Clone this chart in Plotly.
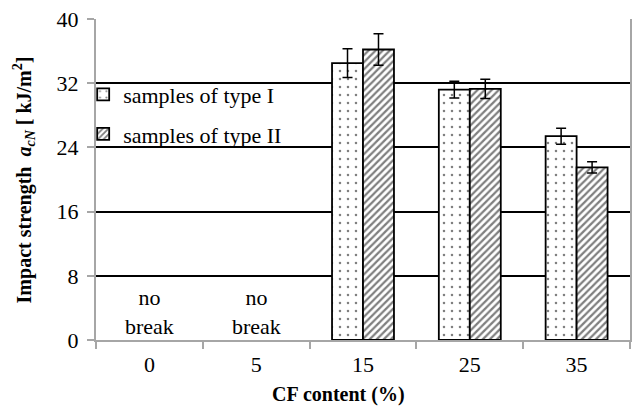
import plotly.graph_objects as go

categories = ["0", "5", "15", "25", "35"]
type1 = [None, None, 34.5, 31.2, 25.4]
type1_err = [None, None, 1.8, 1.05, 1.0]
type2 = [None, None, 36.2, 31.3, 21.5]
type2_err = [None, None, 1.95, 1.2, 0.7]
no_break_cats = ["0", "5"]
y_ticks = [0, 8, 16, 24, 32, 40]

FONT = "Liberation Serif"
FS = 22

fig = go.Figure()
fig.add_trace(go.Bar(
    x=categories, y=type1, name="samples of type I",
    legendgroup="a",
    marker=dict(color="white", line=dict(color="black", width=1.8),
                pattern=dict(shape=".", fgcolor="black", bgcolor="white",
                             size=8, solidity=0.08, fillmode="overlay")),
    error_y=dict(type="data", array=type1_err, color="black", thickness=1.5, width=5),
))
fig.add_trace(go.Bar(
    x=categories, y=type2, name="samples of type II",
    legendgroup="b",
    marker=dict(color="white", line=dict(color="black", width=1.8),
                pattern=dict(shape="/", fgcolor="black", bgcolor="white",
                             size=5, solidity=0.45, fillmode="overlay")),
    error_y=dict(type="data", array=type2_err, color="black", thickness=1.5, width=5),
))

for c in no_break_cats:
    fig.add_annotation(x=categories.index(c), y=3.5, xref="x", yref="y", text="no<br>break",
                       xanchor="center", yanchor="middle",
                       showarrow=False, font=dict(family=FONT, size=FS, color="black"))

fig.add_annotation(x=-0.135, y=0.5, xref="paper", yref="paper",
                   xanchor="center", yanchor="middle",
                   text="<b>Impact strength  <i>a<sub>cN</sub></i> [ kJ/m<sup>2</sup>]</b>",
                   textangle=-90, showarrow=False,
                   font=dict(family=FONT, size=20, color="black"))
fig.add_annotation(x=0.455, y=-0.171, xref="paper", yref="paper",
                   xanchor="center", yanchor="middle",
                   text="<b>CF content (%)</b>", showarrow=False,
                   font=dict(family=FONT, size=20, color="black"))

fig.update_layout(
    width=636, height=412,
    margin=dict(l=96, r=4, t=19, b=72),
    paper_bgcolor="white", plot_bgcolor="white",
    barmode="group", bargap=0.42, bargroupgap=0,
    font=dict(family=FONT, size=FS, color="black"),
    legend=dict(x=-0.024, y=0.83, xanchor="left", yanchor="top",
                bgcolor="rgba(0,0,0,0)", traceorder="grouped", tracegroupgap=8,
                font=dict(family=FONT, size=FS, color="black"),
                itemwidth=30),
    showlegend=True,
)
fig.update_xaxes(
    type="category", showline=True, linecolor="#a6a6a6", linewidth=2,
    ticks="outside", tickson="boundaries", ticklen=7, tickcolor="#a6a6a6", tickwidth=2,
    showgrid=False, tickfont=dict(family=FONT, size=FS, color="black"),
    ticklabelstandoff=4,
)
fig.update_yaxes(
    range=[0, 40], tickvals=y_ticks, showline=True, linecolor="#a6a6a6", linewidth=2,
    mirror=True, ticks="outside", ticklen=7, tickcolor="#a6a6a6", tickwidth=2,
    showgrid=True, gridcolor="black", gridwidth=2, zeroline=False,
    tickfont=dict(family=FONT, size=FS, color="black"),
    ticklabelstandoff=4,
)

fig.write_html("out.html")
